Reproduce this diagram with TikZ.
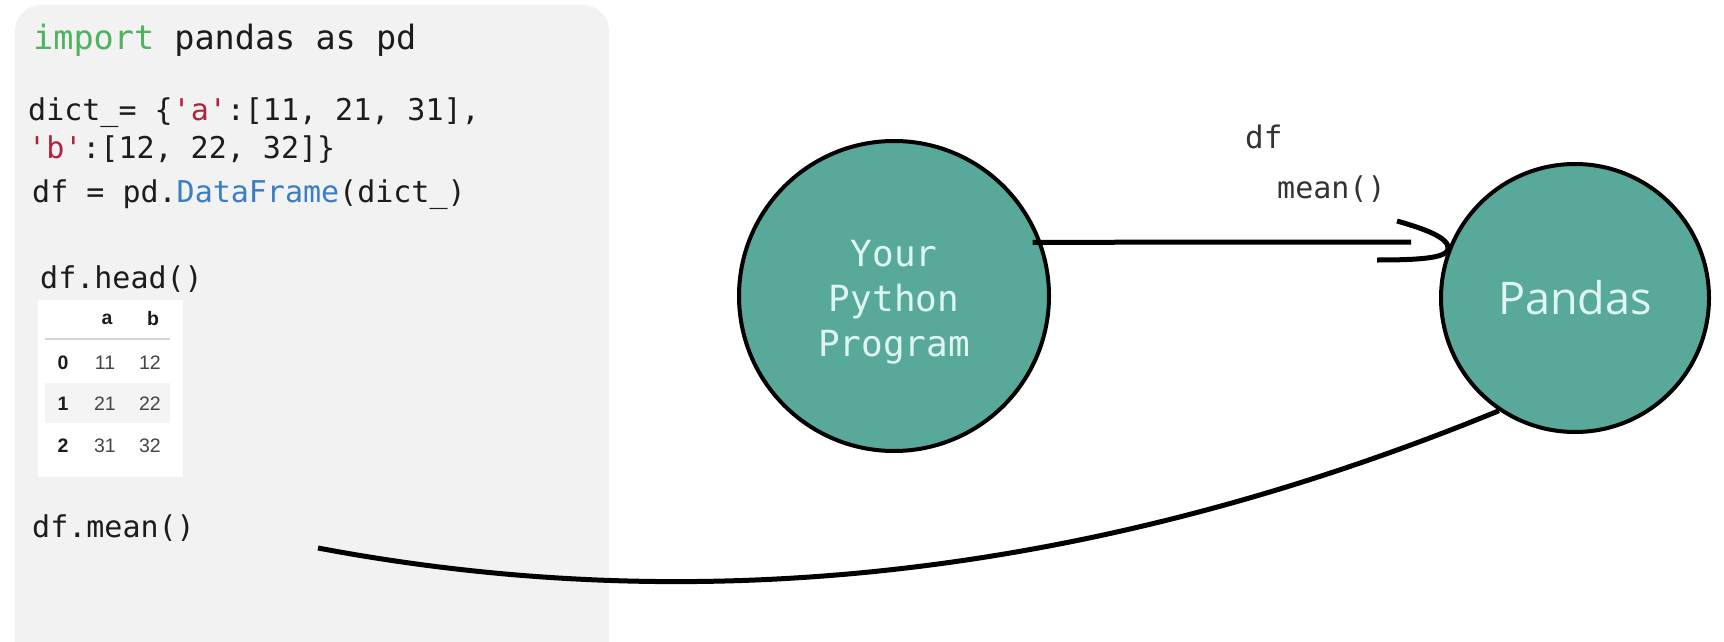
\documentclass[tikz,border=0pt]{standalone}
\usepackage{fontspec}
\setmonofont{DejaVu Sans Mono}
\newfontfamily\tabfont{Liberation Sans}
\newfontfamily\pdfont{Open Sans}
\definecolor{panelgray}{HTML}{F2F2F2}
\definecolor{codeblack}{HTML}{1C1C1C}
\definecolor{kwgreen}{HTML}{4DB35E}
\definecolor{strred}{HTML}{B0233A}
\definecolor{clsblue}{HTML}{3B7DC4}
\definecolor{bubteal}{HTML}{58A99A}
\definecolor{mint}{HTML}{DDF7F0}
\definecolor{labgray}{HTML}{333333}
\definecolor{tabtext}{HTML}{444444}
\definecolor{tabrule}{HTML}{D4D4D4}
\definecolor{tabshade}{HTML}{F4F4F4}
\begin{document}
\begin{tikzpicture}[x=1pt,y=-1pt,
  code/.style={anchor=base west, inner sep=0pt, text=codeblack,
    font=\ttfamily\fontsize{30}{36}\selectfont},
  bubble/.style={circle, draw=black, line width=4pt, fill=bubteal, inner sep=0pt},
  conn/.style={draw=black, line width=5pt},
  tcell/.style={anchor=center, inner sep=0pt, text=tabtext,
    font=\tabfont\fontsize{19.5}{22}\selectfont},
  tidx/.style={anchor=center, inner sep=0pt, text=codeblack,
    font=\tabfont\bfseries\fontsize{19.5}{22}\selectfont},
  lab/.style={anchor=base west, inner sep=0pt, text=labgray}
]
\useasboundingbox (0,0) rectangle (1724,642);
\fill[white] (0,0) rectangle (1724,642);
% left code panel
\fill[panelgray, rounded corners=26pt] (15,5) rectangle (609,700);

% code lines
\node[code, font=\ttfamily\fontsize{33.5}{40}\selectfont] (l1) at (33,49)
  {\textcolor{kwgreen}{import} pandas as pd};
\node[code] (l2) at (28,120)
  {dict\_= \{\textcolor{strred}{'a'}:[11, 21, 31],};
\node[code] (l3) at (28,158)
  {\textcolor{strred}{'b'}:[12, 22, 32]\}};
\node[code] (l4) at (32,202)
  {df = pd.\textcolor{clsblue}{DataFrame}(dict\_)};
\node[code] (l5) at (40,288) {df.head()};
\node[code] (l6) at (32,537) {df.mean()};

% table
\fill[white] (38,300) rectangle (183,477);
\fill[tabshade] (45,383) rectangle (170,423);
\draw[tabrule, line width=2pt] (45,339) -- (170,339);
\node[tidx] (ha) at (107,319) {a};
\node[tidx] (hb) at (153,319) {b};
\node[tidx] (i0) at (63,363) {0};
\node[tcell] (a0) at (105,363) {11};
\node[tcell] (b0) at (150,363) {12};
\node[tidx] (i1) at (63,404) {1};
\node[tcell] (a1) at (105,404) {21};
\node[tcell] (b1) at (150,404) {22};
\node[tidx] (i2) at (63,446) {2};
\node[tcell] (a2) at (105,446) {31};
\node[tcell] (b2) at (150,446) {32};

% bubbles
\node[bubble, minimum size=310pt] (py) at (894,296) {};
\node[text=mint, align=center, inner sep=0pt,
  font=\ttfamily\fontsize{36}{45}\selectfont] (pytext) at (894,302)
  {Your\\Python\\Program};
\node[bubble, minimum size=268pt, text=mint,
  font=\pdfont\fontsize{45}{54}\selectfont] (pd) at (1575,298) {Pandas};

% labels
\node[lab, font=\ttfamily\fontsize{31}{36}\selectfont] (dflab) at (1245,148) {df};
\node[lab, font=\ttfamily\fontsize{30}{36}\selectfont] (meanlab) at (1277,198) {mean()};

% connector from program to pandas with hook
\coordinate (l1end) at (1411,242);
\draw[conn, shorten <=-9pt] (py.20) -- (l1end);
\coordinate (hk1) at (1397,221);
\coordinate (hk2) at (1377,260);
\draw[conn] (hk1) .. controls (1425,229) and (1450,238) .. (pd.159)
  .. controls (1446,258) and (1420,260) .. (hk2);

% connector from df.mean() to pandas
\coordinate (c2start) at (318,548);
\draw[conn] (c2start) .. controls (705,621) and (1098,575) .. (pd.236);
\end{tikzpicture}
\end{document}
